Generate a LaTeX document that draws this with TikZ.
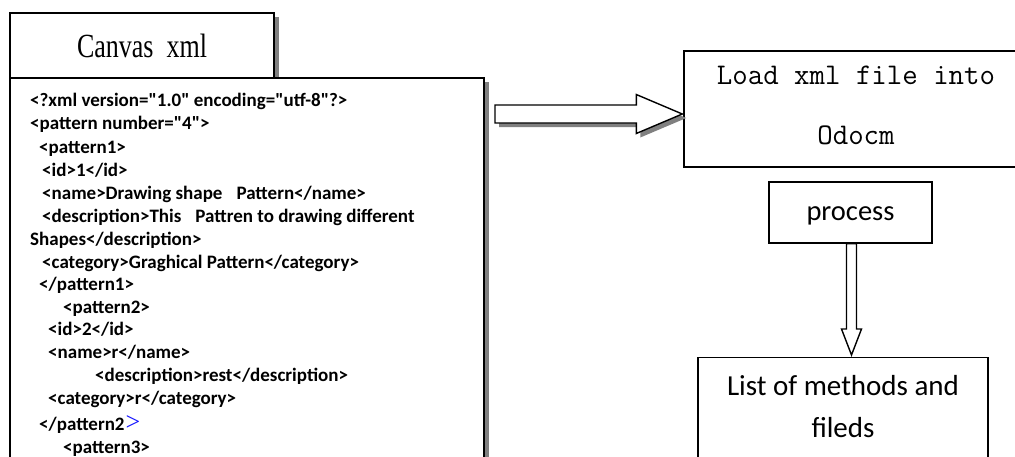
\documentclass[tikz,border=0pt]{standalone}
\usepackage{fontspec}
\usepackage{graphicx}
\usetikzlibrary{calc,shadows}
\newfontfamily\timesfont{Liberation Serif}
\newfontfamily\calibrifont{Carlito}
\definecolor{shadowgray}{RGB}{128,128,128}
\definecolor{markblue}{RGB}{20,20,255}
\tikzset{
  thickbox/.style={draw=black, line width=2pt, fill=white, inner sep=0pt,
    general shadow={fill=shadowgray, shadow xshift=5pt, shadow yshift=-4pt}},
  plainbox/.style={draw=black, line width=1.4pt, fill=white, inner sep=0pt, align=center},
  codeline/.style={anchor=base west, inner sep=0pt,
    font=\calibrifont\bfseries\fontsize{19}{23}\selectfont},
  boxtext/.style={anchor=base, inner sep=0pt},
  blockarrow/.style={draw=black, line width=1.4pt, fill=white, line join=miter},
  arrowshadow/.style={fill=shadowgray, draw=none}
}
\begin{document}
\begin{tikzpicture}[x=1pt, y=-1pt]
  \useasboundingbox (0,0) rectangle (1015,456);
  \fill[white] (0,0) rectangle (1015,456);
  \clip (0,0) rectangle (1015,456);

  % title tab and the xml listing box
  \node[thickbox, minimum width=264, minimum height=65,
        font=\timesfont\fontsize{26}{30}\selectfont] (canvas) at (142,45.5)
        {\scalebox{1}[1.3]{Canvas~~xml}};
  \node[thickbox, minimum width=474, minimum height=520, shadow yshift=-5pt] (code) at (247,338) {};

  % listing text
  \node[codeline] (l1)  at (30,106) {<?xml version="1.0" encoding="utf-8"?>};
  \node[codeline] (l2)  at (30,129) {<pattern number="4">};
  \node[codeline] (l3)  at (39,153) {<pattern1>};
  \node[codeline] (l4)  at (42,176) {<id>1</id>};
  \node[codeline] (l5)  at (42,199) {<name>Drawing shape\hspace{14pt}Pattern</name>};
  \node[codeline] (l6)  at (42,222) {<description>This\hspace{14pt}Pattren to drawing different};
  \node[codeline] (l7)  at (30,245) {Shapes</description>};
  \node[codeline] (l8)  at (42,268) {<category>Graghical Pattern</category>};
  \node[codeline] (l9)  at (39,290) {</pattern1>};
  \node[codeline] (l10) at (63,313) {<pattern2>};
  \node[codeline] (l11) at (48,335) {<id>2</id>};
  \node[codeline] (l12) at (48,358) {<name>r</name>};
  \node[codeline] (l13) at (95,381) {<description>rest</description>};
  \node[codeline] (l14) at (48,404) {<category>r</category>};
  \node[codeline] (l15) at (39,430) {</pattern2{\timesfont\mdseries\fontsize{26}{26}\selectfont\color{markblue}\kern1pt>}};
  \node[codeline] (l16) at (63,453) {<pattern3>};

  % processing boxes
  \node[plainbox, minimum width=344, minimum height=116] (load) at (856,109) {};
  \node[boxtext, font=\ttfamily\fontsize{30}{60}\selectfont] (loadtext1)
        at ($(load.north)+(0,34)$) {Load xml file into};
  \node[boxtext, font=\ttfamily\fontsize{30}{60}\selectfont] (loadtext2)
        at ($(loadtext1.base)+(0,60)$) {Odocm};

  \node[plainbox, minimum width=163, minimum height=61] (process) at (850.5,212.5) {};
  \node[boxtext, font=\calibrifont\fontsize{28.5}{34}\selectfont] (processtext)
        at ($(process.north)+(0,39.5)$) {process};

  \node[plainbox, minimum width=290, minimum height=160, anchor=north] (list) at (843,357) {};
  \node[boxtext, font=\calibrifont\fontsize{29}{43}\selectfont] (listtext1)
        at ($(list.north)+(0,38)$) {List of methods and};
  \node[boxtext, font=\calibrifont\fontsize{29}{43}\selectfont] (listtext2)
        at ($(listtext1.base)+(0,42)$) {fileds};

  % block arrow from the listing to the loader
  \coordinate (rs) at ($(code.north east)+(10,37)$);
  \coordinate (re) at ($(load.west |- rs)+(-1,0)$);
  \path[arrowshadow] let \p1=(rs), \p2=(re) in
    [shift={(4pt,-4pt)}]
    (\x1,\y1+9pt) -- (\x2-46pt,\y1+9pt) -- (\x2-46pt,\y1+19.5pt) -- (\x2,\y1)
    -- (\x2-46pt,\y1-19.5pt) -- (\x2-46pt,\y1-9pt) -- (\x1,\y1-9pt) -- cycle;
  \path[blockarrow] let \p1=(rs), \p2=(re) in
    (\x1,\y1+9pt) -- (\x2-46pt,\y1+9pt) -- (\x2-46pt,\y1+19.5pt) -- (\x2,\y1)
    -- (\x2-46pt,\y1-19.5pt) -- (\x2-46pt,\y1-9pt) -- (\x1,\y1-9pt) -- cycle;

  % block arrow from process to the result list
  \coordinate (ds) at ($(process.south)+(1,0)$);
  \coordinate (de) at ($(ds |- list.north)+(0,-2)$);
  \path[blockarrow] let \p1=(ds), \p2=(de) in
    (\x1-5pt,\y1) -- (\x1-5pt,\y2+26pt) -- (\x1-10pt,\y2+26pt) -- (\x1,\y2)
    -- (\x1+10pt,\y2+26pt) -- (\x1+5pt,\y2+26pt) -- (\x1+5pt,\y1) -- cycle;
\end{tikzpicture}
\end{document}
